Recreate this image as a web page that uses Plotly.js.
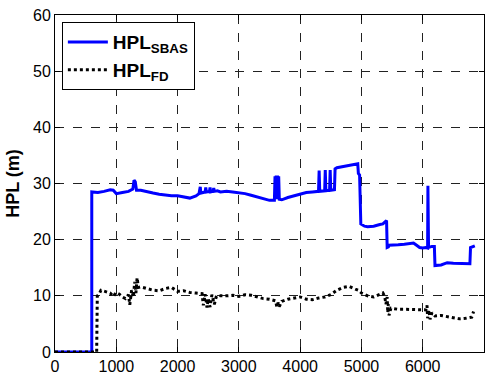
<!DOCTYPE html>
<html><head><meta charset="utf-8">
<script src="https://cdn.plot.ly/plotly-3.0.1.min.js"></script>
<style>html,body{margin:0;padding:0;background:#fff}#chart{width:500px;height:376px}</style>
</head><body><div id="chart"></div>
<script>
// HPL_SBAS series
const sbasX = [0,600,600,700,800,900,950,1000,1100,1200,1270,1290,1310,1330,1400,1500,1600,1700,1800,1900,2000,2100,2200,2300,2350,2370,2380,2450,2460,2470,2520,2530,2540,2580,2590,2600,2650,2700,2800,2900,3000,3100,3200,3300,3400,3500,3580,3590,3600,3610,3620,3630,3640,3650,3660,3700,3800,3900,4000,4100,4200,4300,4310,4320,4400,4410,4420,4480,4490,4500,4560,4570,4600,4700,4800,4900,4940,4950,4970,4990,5050,5100,5200,5300,5350,5400,5410,5420,5440,5450,5500,5600,5700,5800,5850,5900,5950,6000,6050,6080,6085,6095,6150,6190,6200,6300,6400,6500,6600,6700,6770,6780,6850];
const sbasY = [0,0,28.5,28.4,28.6,28.9,28.8,28.2,28.4,28.6,29.0,30.6,30.3,28.8,28.8,28.5,28.3,28.1,27.9,27.8,27.8,27.6,27.4,27.8,28.2,29.4,28.3,28.5,29.3,28.5,28.6,29.3,28.5,28.6,29.2,28.6,28.7,28.5,28.6,28.5,28.4,28.2,27.9,27.6,27.3,27.0,27.0,31.3,27.2,31.4,27.2,31.4,27.2,31.3,27.2,27.1,27.5,27.8,28.1,28.4,28.5,28.6,32.3,28.6,28.7,32.4,28.7,28.8,32.4,28.8,28.9,32.6,32.8,33.0,33.1,33.3,33.5,31.8,31.5,22.8,22.4,22.3,22.4,22.7,22.8,23.3,23.4,18.6,18.7,19.0,19.0,19.1,19.2,19.3,19.4,19.0,18.6,18.5,18.6,18.5,29.6,18.6,18.8,18.8,15.4,15.5,15.9,15.8,15.8,15.8,15.7,18.6,18.9];
// HPL_FD series
const fdX = [0,680,690,720,750,800,900,950,1000,1050,1100,1150,1200,1220,1250,1280,1300,1320,1340,1360,1400,1500,1600,1700,1800,1900,2000,2100,2200,2300,2400,2420,2450,2480,2500,2530,2560,2600,2630,2650,2700,2800,2900,3000,3100,3200,3300,3400,3500,3600,3620,3640,3660,3700,3800,3900,4000,4100,4200,4300,4400,4500,4550,4600,4700,4800,4900,4950,5000,5100,5200,5300,5350,5380,5400,5420,5430,5440,5450,5480,5600,5700,5800,5900,6000,6050,6070,6080,6100,6120,6150,6200,6300,6400,6500,6600,6700,6800,6830];
const fdY = [0,0,10.0,10.3,11.0,10.8,10.5,9.9,10.6,10.3,9.8,9.5,10.2,8.4,11.0,9.8,12.5,10.5,13.2,11.5,11.6,11.3,11.0,10.9,11.3,11.5,10.8,10.9,10.6,10.5,10.4,8.3,10.3,7.9,9.5,8.0,10.2,8.5,9.8,10.1,10.0,10.0,10.1,9.9,10.2,10.1,9.8,9.5,9.4,9.1,8.0,8.8,8.1,9.0,9.4,9.6,9.8,9.4,9.3,9.6,9.8,10.2,10.6,11.0,11.5,11.7,11.2,11.0,10.5,10.0,9.8,10.2,10.5,9.9,8.5,9.8,7.0,8.5,6.5,7.8,7.6,7.6,7.6,7.6,7.5,7.5,8.3,6.0,7.5,5.8,7.0,6.4,6.5,6.3,6.0,5.9,6.0,6.2,7.2];
const xTicks = [0,1000,2000,3000,4000,5000,6000,7000];
const yTicks = [0,10,20,30,40,50,60];
const names = ['<b>HPL<sub>SBAS</sub></b>','<b>HPL<sub>FD</sub></b>'];

const traces = [
  {x: sbasX, y: sbasY, type:'scatter', mode:'lines', name: names[0],
   line:{color:'#0000ff', width:3}},
  {x: fdX, y: fdY, type:'scatter', mode:'lines', name: names[1],
   line:{color:'#000000', width:3, dash:'dot'}}
];
const axisCommon = {
  showline:true, linecolor:'#000', linewidth:1, mirror:'ticks',
  ticks:'inside', ticklen:5, tickcolor:'#000',
  showgrid:true, gridcolor:'#222', gridwidth:1, griddash:'dash',
  zeroline:false, tickfont:{family:'Liberation Sans, Arial, sans-serif', size:16, color:'#000'}
};
const layout = {
  width:500, height:376,
  margin:{l:55, r:16, t:15, b:24},
  paper_bgcolor:'#fff', plot_bgcolor:'#fff',
  showlegend:true,
  legend:{x:0.016, y:0.979, xanchor:'left', yanchor:'top', bgcolor:'#fff',
    bordercolor:'#000', borderwidth:1, itemwidth:40,
    font:{family:'Liberation Sans, Arial, sans-serif', size:19, color:'#000'}},
  xaxis: Object.assign({}, axisCommon, {range:[0,7000], tickvals:xTicks, ticktext:xTicks.map(String)}),
  yaxis: Object.assign({}, axisCommon, {range:[0,60], tickvals:yTicks, ticktext:yTicks.map(String),
    title:{text:'<b>HPL (m)</b>', font:{family:'Liberation Sans, Arial, sans-serif', size:18, color:'#000'}, standoff:8}})
};
Plotly.newPlot('chart', traces, layout, {displayModeBar:false, staticPlot:true});
</script></body></html>
